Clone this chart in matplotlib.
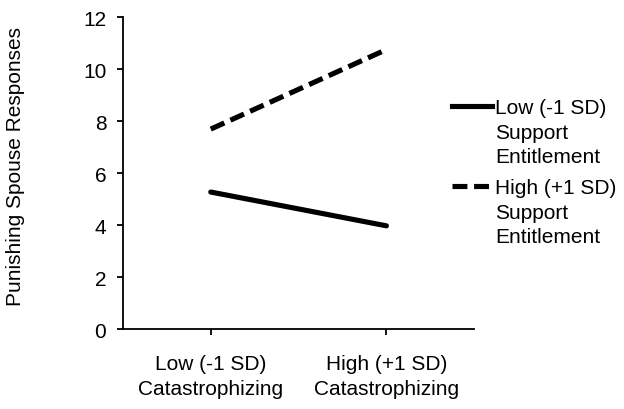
import matplotlib.pyplot as plt
from matplotlib.lines import Line2D

plt.rcParams['font.family'] = ['Liberation Sans', 'DejaVu Sans']

# data
categories = ['Low (-1 SD)\nCatastrophizing', 'High (+1 SD)\nCatastrophizing']
low_support = [5.27, 3.97]
high_support = [7.69, 10.75]
series_labels = ['Low (-1 SD)\nSupport\nEntitlement', 'High (+1 SD)\nSupport\nEntitlement']

fig = plt.figure(figsize=(6.24, 4.10), dpi=100)
ax = fig.add_axes([0.197, 0.195, 0.563, 0.761])

x = range(len(categories))
ax.plot(x, low_support, color='black', lw=3.7, solid_capstyle='round')
ax.plot(x, high_support, color='black', lw=3.7, dashes=(2.9, 1.3))

ax.set_xlim(-0.5, 1.5)
ax.set_ylim(0, 12)
ax.set_yticks([0, 2, 4, 6, 8, 10, 12])
ax.set_xticks(list(x))
ax.set_xticklabels(categories, fontsize=15)
ax.tick_params(axis='y', labelsize=15, direction='out', length=4, width=1.3, pad=8)
ax.tick_params(axis='x', direction='out', length=4, width=1.3, pad=14)
for lbl in ax.get_xticklabels():
    lbl.set_linespacing(1.38)

ax.spines['top'].set_visible(False)
ax.spines['right'].set_visible(False)
ax.spines['left'].set_linewidth(1.3)
ax.spines['bottom'].set_linewidth(1.3)

ax.set_ylabel('Punishing Spouse Responses', fontsize=15)
ax.yaxis.set_label_coords(-0.28, 0.525)

# legend drawn by hand so the handle sits on the first text line
styles = [dict(lw=3.7), dict(lw=3.7, dashes=(2.9, 1.3))]
first_line_y = [107, 187]
for label, style, ypx in zip(series_labels, styles, first_line_y):
    yf = 1 - ypx / 410
    fig.add_artist(Line2D([452 / 624, 492 / 624], [yf, yf], color='black',
                          transform=fig.transFigure, **style))
    fig.text(495 / 624, yf + 8 / 410, label, fontsize=15, va='top', ha='left',
             linespacing=1.38)

fig.savefig('out.png', dpi=100)
